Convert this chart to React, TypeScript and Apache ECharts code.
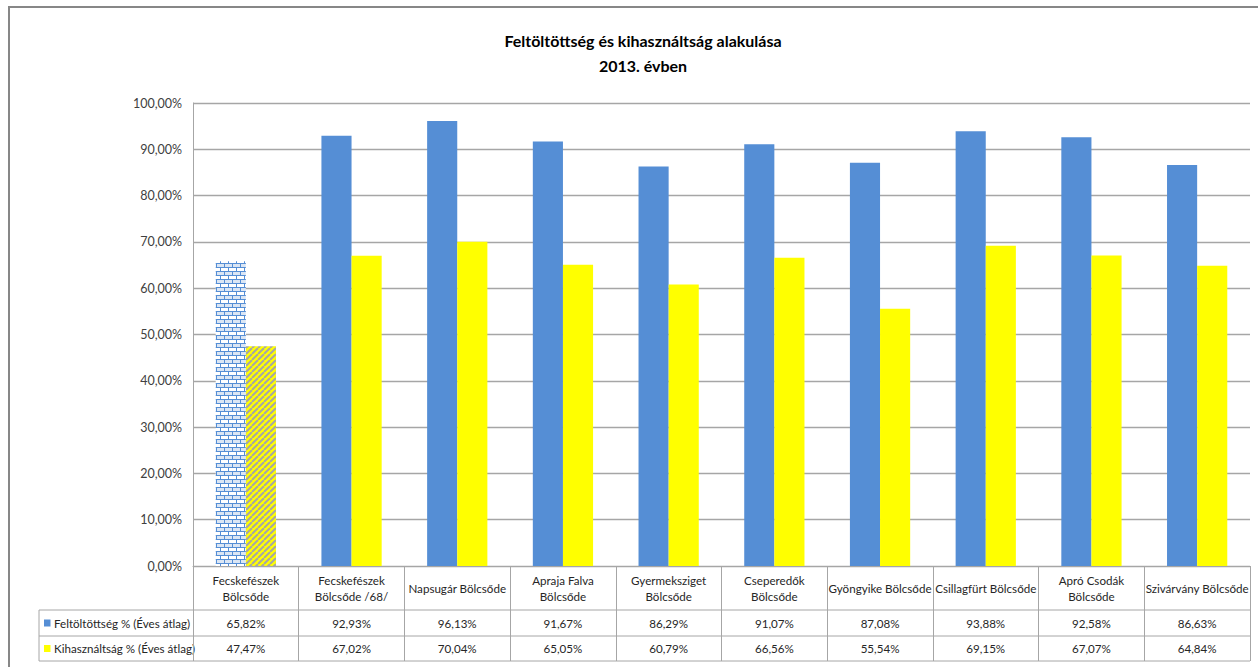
import React, { useEffect, useRef } from "react";
import * as echarts from "echarts";

const categories = [
  "Fecskefészek\nBölcsőde",
  "Fecskefészek\nBölcsőde /68/",
  "Napsugár Bölcsőde",
  "Apraja Falva\nBölcsőde",
  "Gyermeksziget\nBölcsőde",
  "Cseperedők\nBölcsőde",
  "Gyöngyike Bölcsőde",
  "Csillagfürt Bölcsőde",
  "Apró Csodák\nBölcsőde",
  "Szivárvány Bölcsőde",
];
const seriesNames = ["Feltöltöttség % (Éves átlag)", "Kihasználtság % (Éves átlag)"];
const feltoltottseg = [65.82, 92.93, 96.13, 91.67, 86.29, 91.07, 87.08, 93.88, 92.58, 86.63];
const kihasznaltsag = [47.47, 67.02, 70.04, 65.05, 60.79, 66.56, 55.54, 69.15, 67.07, 64.84];
const titleLines = ["Feltöltöttség és kihasználtság alakulása", "2013. évben"];

const FONT = "Lato, 'Liberation Sans', sans-serif";
const BLUE = "#558ed5";
const YELLOW = "#ffff00";
const GRID_LEFT = 193;
const GRID_RIGHT = 8;
const GRID_TOP = 103;
const GRID_BOTTOM = 101;
const W = 1258;
const H = 667;
const TABLE_FONT = 11.6;
const fmt = (v: number) => v.toFixed(2).replace(".", ",") + "%";

function brickPattern() {
  const c = document.createElement("canvas");
  c.width = 8;
  c.height = 8;
  const ctx = c.getContext("2d")!;
  ctx.fillStyle = "#ffffff";
  ctx.fillRect(0, 0, 8, 8);
  ctx.fillStyle = "#dbe6f4";
  ctx.fillRect(1, 0, 7, 3);
  ctx.fillStyle = BLUE;
  ctx.fillRect(0, 3, 8, 1);
  ctx.fillRect(0, 7, 8, 1);
  ctx.fillRect(0, 0, 1, 3);
  ctx.fillRect(4, 4, 1, 3);
  return c;
}

function stripePattern() {
  const s = 6;
  const c = document.createElement("canvas");
  c.width = s;
  c.height = s;
  const ctx = c.getContext("2d")!;
  ctx.fillStyle = YELLOW;
  ctx.fillRect(0, 0, s, s);
  ctx.strokeStyle = "#a6a6a6";
  ctx.lineWidth = 2;
  for (const k of [-s, 0, s]) {
    ctx.beginPath();
    ctx.moveTo(k, s);
    ctx.lineTo(k + s, 0);
    ctx.stroke();
  }
  return c;
}

export default function App() {
  const ref = useRef<HTMLDivElement>(null);
  useEffect(() => {
    if (!ref.current) return;
    const chart = echarts.init(ref.current, undefined, { renderer: "svg" });
    const brick = brickPattern();
    const stripe = stripePattern();
    const plotRight = W - GRID_RIGHT;
    const axisY = H - GRID_BOTTOM;
    const rowTop = 610;
    const rowMid = 636;
    const rowBot = 661;
    const tableLeft = 39;
    const lineStyle = { stroke: "#a6a6a6", lineWidth: 1 };

    const blueData = feltoltottseg.map((v, i) =>
      i === 0
        ? { value: v, itemStyle: { color: { image: brick, repeat: "repeat", imageWidth: 8, imageHeight: 8 } } }
        : v
    );
    const yellowData = kihasznaltsag.map((v, i) =>
      i === 0
        ? { value: v, itemStyle: { color: { image: stripe, repeat: "repeat", imageWidth: 6, imageHeight: 6 } } }
        : v
    );

    const labelBase = {
      interval: 0,
      verticalAlign: "middle",
      color: "#262626",
      fontFamily: FONT,
      fontSize: TABLE_FONT,
      lineHeight: 16,
    };

    const option: any = {
      animation: false,
      backgroundColor: "#ffffff",
      textStyle: { fontFamily: FONT },
      title: {
        text: titleLines.join("\n"),
        left: 638,
        top: 23,
        textAlign: "center",
        textStyle: {
          fontFamily: FONT,
          fontSize: 16,
          fontWeight: "bold",
          color: "#000",
          lineHeight: 25,
        },
      },
      grid: { left: GRID_LEFT, right: GRID_RIGHT, top: GRID_TOP, bottom: GRID_BOTTOM, containLabel: false },
      xAxis: [
        {
          type: "category",
          data: categories,
          axisLine: { show: true, lineStyle: { color: "#a6a6a6", width: 1 } },
          axisTick: { show: true, length: rowBot - axisY, interval: 0, lineStyle: { color: "#a6a6a6" } },
          axisLabel: { ...labelBase, margin: 22 },
          splitLine: { show: false },
        },
        {
          type: "category",
          data: feltoltottseg.map(fmt),
          position: "bottom",
          offset: 0,
          axisLine: { show: false },
          axisTick: { show: false },
          axisLabel: { ...labelBase, margin: (rowTop + rowMid) / 2 - axisY },
        },
        {
          type: "category",
          data: kihasznaltsag.map(fmt),
          position: "bottom",
          offset: 0,
          axisLine: { show: false },
          axisTick: { show: false },
          axisLabel: { ...labelBase, margin: (rowMid + rowBot) / 2 - axisY },
        },
      ],
      yAxis: {
        type: "value",
        min: 0,
        max: 100,
        interval: 10,
        axisLine: { show: true, lineStyle: { color: "#a6a6a6" } },
        axisTick: { show: false },
        splitLine: { show: true, lineStyle: { color: "#a6a6a6", width: 1.3 } },
        axisLabel: {
          formatter: (v: number) => fmt(v),
          color: "#404040",
          fontFamily: FONT,
          fontSize: 12.5,
          margin: 11,
        },
      },
      series: [
        {
          name: seriesNames[0],
          type: "bar",
          xAxisIndex: 0,
          data: blueData,
          itemStyle: { color: BLUE },
          barGap: "0%",
          barCategoryGap: "43%",
        },
        {
          name: seriesNames[1],
          type: "bar",
          xAxisIndex: 0,
          data: yellowData,
          itemStyle: { color: YELLOW },
          barGap: "0%",
          barCategoryGap: "43%",
        },
      ],
      graphic: [
        {
          type: "rect",
          shape: { x: 9, y: 7, width: W + 20, height: H + 20 },
          style: { fill: "none", stroke: "#878787", lineWidth: 2 },
          silent: true,
        },
        { type: "line", shape: { x1: tableLeft, y1: rowTop, x2: plotRight, y2: rowTop }, style: lineStyle },
        { type: "line", shape: { x1: tableLeft, y1: rowMid, x2: plotRight, y2: rowMid }, style: lineStyle },
        { type: "line", shape: { x1: tableLeft, y1: rowBot, x2: plotRight, y2: rowBot }, style: lineStyle },
        { type: "line", shape: { x1: tableLeft, y1: rowTop, x2: tableLeft, y2: rowBot }, style: lineStyle },
        {
          type: "rect",
          shape: { x: 44, y: (rowTop + rowMid) / 2 - 3.5, width: 6.5, height: 7 },
          style: { fill: BLUE },
        },
        {
          type: "rect",
          shape: { x: 44, y: (rowMid + rowBot) / 2 - 3.5, width: 6.5, height: 7 },
          style: { fill: YELLOW },
        },
        {
          type: "text",
          x: 54,
          y: (rowTop + rowMid) / 2,
          style: { text: seriesNames[0], fontFamily: FONT, fontSize: TABLE_FONT, fill: "#262626", verticalAlign: "middle", align: "left" },
        },
        {
          type: "text",
          x: 54,
          y: (rowMid + rowBot) / 2,
          style: { text: seriesNames[1], fontFamily: FONT, fontSize: TABLE_FONT, fill: "#262626", verticalAlign: "middle", align: "left" },
        },
      ],
    };
    chart.setOption(option);
    return () => chart.dispose();
  }, []);
  return (
    <div
      ref={ref}
      style={{ position: "absolute", left: 0, top: 0, width: W, height: H, background: "#fff" }}
    />
  );
}
